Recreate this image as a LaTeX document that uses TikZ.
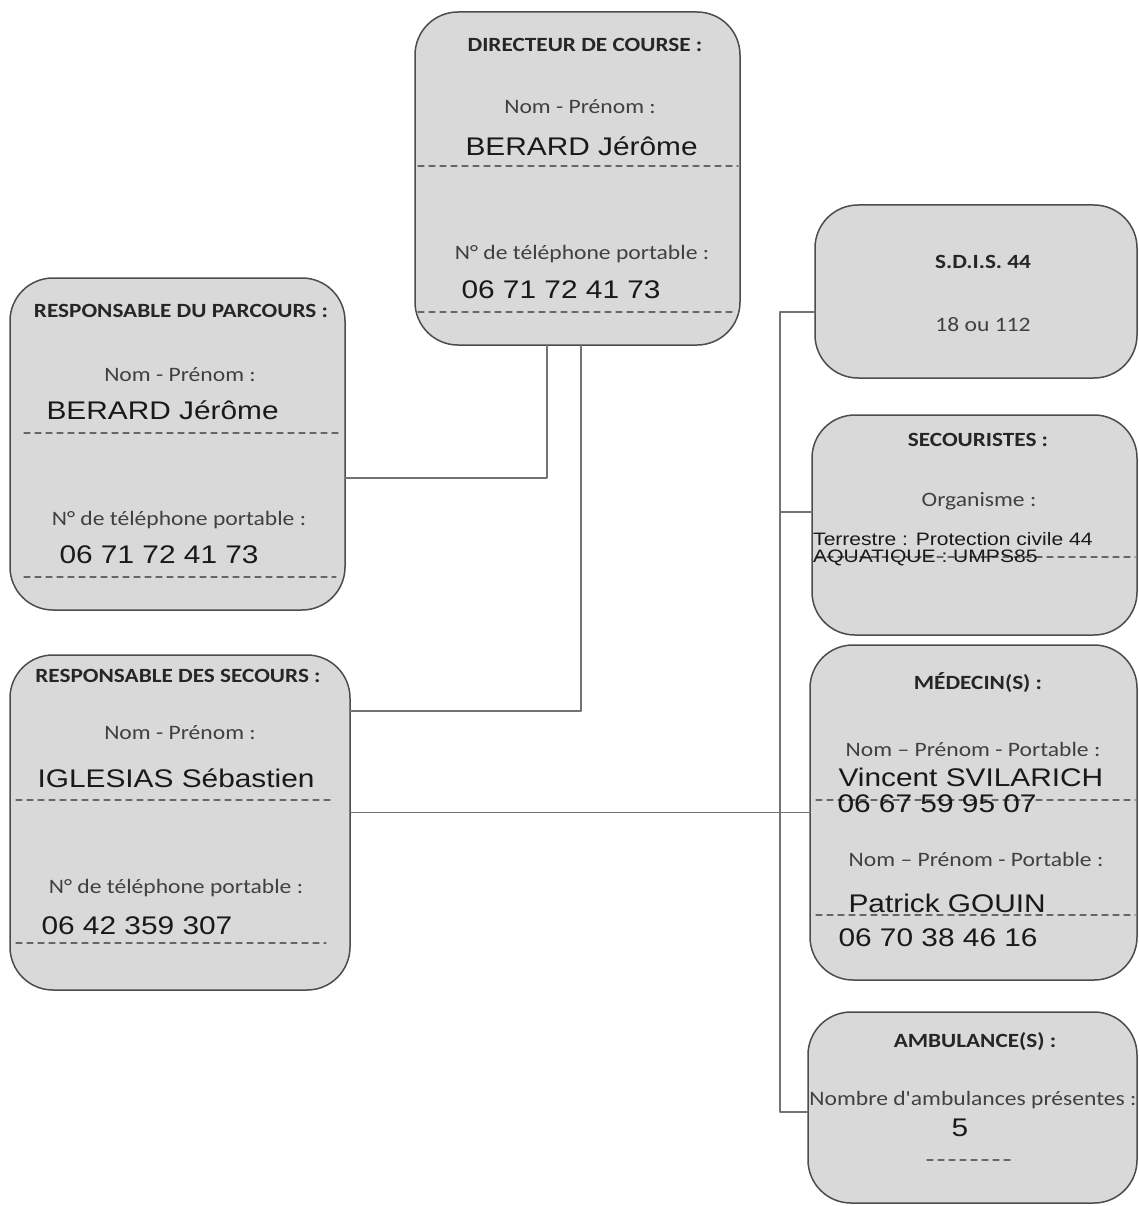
\documentclass[tikz,border=0pt]{standalone}
\usepackage{fontspec}
\usetikzlibrary{positioning}

\newfontfamily\calfont[FakeStretch=1.15]{Carlito}
\newfontfamily\arfont[FakeStretch=1.17]{Liberation Sans}

\tikzset{
  box/.style={draw=black!70, fill=black!15, line width=1.5pt, rounded corners=43pt,
    inner sep=0pt, outer sep=0pt},
  ttl/.style={font=\calfont\bfseries\fontsize{20.2}{24}\selectfont, text=black!85},
  lbl/.style={font=\calfont\fontsize{20.5}{24}\selectfont, text=black!75},
  val/.style={font=\arfont\fontsize{25.5}{28}\selectfont, text=black!90},
  small/.style={font=\arfont\fontsize{18}{17}\selectfont, text=black!90},
  dashline/.style={draw=black!60, line width=1.3pt, dash pattern=on 6pt off 5pt},
  link/.style={draw=black!55, line width=1.1pt}
}

\begin{document}
\begin{tikzpicture}[x=1pt, y=-1pt, line cap=round, line join=round]
  \useasboundingbox (0,0) rectangle (1139,1206);

  % cadres
  \node (dir)     [box, minimum width=325pt, minimum height=333pt] at (577.5,178.5) {};
  \node (parc)    [box, minimum width=335pt, minimum height=332pt] at (177.5,444) {};
  \node (secours) [box, minimum width=340pt, minimum height=335pt] at (180,822.5) {};
  \node (sdis)    [box, minimum width=322pt, minimum height=173pt] at (976,291.5) {};
  \node (secou)   [box, minimum width=325pt, minimum height=220pt] at (974.5,525) {};
  \node (med)     [box, minimum width=327pt, minimum height=335pt] at (973.5,812.5) {};
  \node (amb)     [box, minimum width=329pt, minimum height=191pt] at (972.5,1107.5) {};

  % liaisons
  \coordinate (e1) at (547,478);
  \coordinate (e2) at (581,711);
  \draw[link] (dir.south -| e1) |- (parc.east |- e1);
  \draw[link] (dir.south -| e2) |- (secours.east |- e2);
  \draw[link] (secours.east |- med.west) -- (med.west);

  \coordinate (btop) at (780,312);
  \coordinate (bmid) at (780,512);
  \coordinate (bbot) at (780,1112);
  \draw[link] (sdis.west |- btop) -- (btop) -- (bbot) -- (amb.west |- bbot);
  \draw[link] (bmid) -- (secou.west |- bmid);

  % directeur de course
  \node (dirT) [ttl] at (585,45) {DIRECTEUR DE COURSE :};
  \node (dirN) [lbl] at (580,107) {Nom - Prénom :};
  \node (dirV) [val, anchor=west] at (462,146) {BERARD Jérôme};
  \draw[dashline] (418,166) -- (738,166);
  \node (dirP) [lbl] at (582,254) {N° de téléphone portable :};
  \node (dirW) [val, anchor=west] at (458,290) {06 71 72 41 73};
  \draw[dashline] (418,312) -- (736,312);

  % responsable du parcours
  \node (parT) [ttl] at (181,311) {RESPONSABLE DU PARCOURS :};
  \node (parN) [lbl] at (180,375) {Nom - Prénom :};
  \node (parV) [val, anchor=west] at (43,410) {BERARD Jérôme};
  \draw[dashline] (24,433) -- (340,433);
  \node (parP) [lbl] at (179,520) {N° de téléphone portable :};
  \node (parW) [val, anchor=west] at (56,555) {06 71 72 41 73};
  \draw[dashline] (24,577) -- (336,577);

  % responsable des secours
  \node (secT) [ttl] at (178,676) {RESPONSABLE DES SECOURS :};
  \node (secN) [lbl] at (180,733) {Nom - Prénom :};
  \node (secV) [val, anchor=west] at (34,778) {IGLESIAS Sébastien};
  \draw[dashline] (16,800) -- (332,800);
  \node (secP) [lbl] at (176,888) {N° de téléphone portable :};
  \node (secW) [val, anchor=west] at (38,926) {06 42 359 307};
  \draw[dashline] (16,943) -- (326,943);

  % S.D.I.S.
  \node (sdT) [ttl] at (983,262) {S.D.I.S. 44};
  \node (sdN) [lbl] at (983,325) {18 ou 112};

  % secouristes
  \node (scT) [ttl] at (978,440) {SECOURISTES :};
  \node (scN) [lbl] at (979,501) {Organisme :};
  \draw[dashline] (816,557) -- (1135,557);
  \node (scA) [small, anchor=west, align=left, inner sep=0pt] at (813,549)
    {Terrestre : Protection civile 44\\AQUATIQUE : UMPS85};

  % medecins
  \node (mdT) [ttl] at (978,683) {MÉDECIN(S) :};
  \node (mdN) [lbl] at (973,749) {Nom – Prénom - Portable :};
  \node (mdV) [val, anchor=west] at (835,777) {Vincent SVILARICH};
  \draw[dashline] (816,800) -- (1135,800);
  \node (mdW) [val, anchor=west] at (834,804) {06 67 59 95 07};
  \node (mdM) [lbl] at (976,859) {Nom – Prénom - Portable :};
  \node (mdX) [val, anchor=west] at (845,903) {Patrick GOUIN};
  \draw[dashline] (816,915) -- (1135,915);
  \node (mdY) [val, anchor=west] at (835,938) {06 70 38 46 16};

  % ambulances
  \node (amT) [ttl] at (975,1042) {AMBULANCE(S) :};
  \node (amN) [lbl] at (973,1100) {Nombre d'ambulances présentes :};
  \node (amV) [val] at (960,1128) {5};
  \draw[dashline] (927,1160) -- (1012,1160);
\end{tikzpicture}
\end{document}
